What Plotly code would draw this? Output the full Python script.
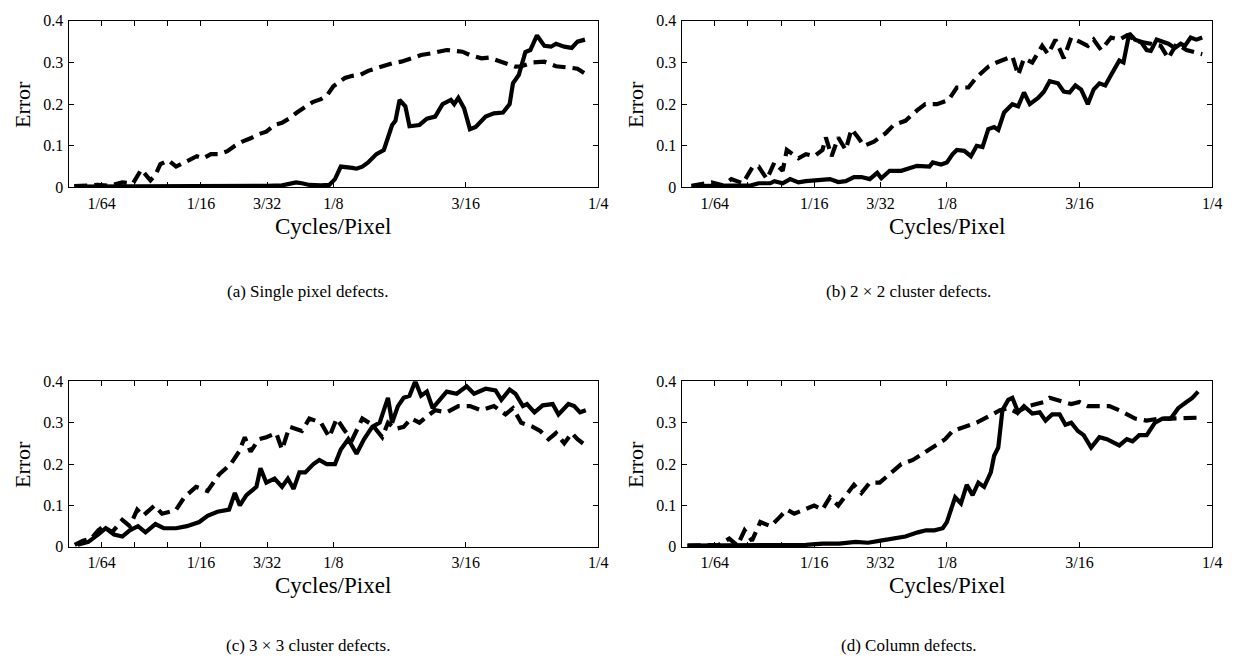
import plotly.graph_objects as go

# Frequencies are given in units of 1/256 cycles/pixel (k), converted below.
a_sol_k = [0.7, 3, 6, 9, 12, 15, 18, 21, 24, 25.8, 26.7, 27.5, 28.2, 29.1, 30.5, 31.5, 32.2, 32.9, 34.3, 34.8, 35.5, 36.2, 37.2, 38.1, 39.1, 39.5, 40.0, 40.7, 41.2, 42.4, 43.3, 44.3, 45.2, 46.2, 46.6, 47.1, 47.8, 48.5, 49.2, 50.4, 51.4, 52.5, 53.3, 53.7, 54.4, 55.2, 55.8, 56.6, 57.5, 58.3, 58.9, 59.9, 60.8, 61.5, 62.4]
a_sol_err = [.002, .002, .002, .002, .002, .002, .003, .003, .004, .005, .01, .012, .01, .006, .005, .006, .02, .05, .047, .045, .05, .06, .08, .09, .15, .16, .21, .195, .147, .15, .165, .17, .2, .21, .2, .215, .19, .14, .145, .17, .178, .18, .2, .25, .27, .325, .33, .365, .34, .338, .345, .338, .335, .35, .355]

a_dash_k = [0.7, 2, 3.5, 5, 6.5, 7.8, 8.8, 9.9, 10.5, 11.1, 12.1, 13, 14.4, 15.5, 16.3, 17.2, 18.2, 19.2, 20.1, 21, 22, 23, 23.9, 24.9, 25.8, 26.7, 27.6, 28.6, 29.5, 30.5, 31.2, 32, 33.4, 34.3, 35.3, 36.2, 37.2, 38.1, 39.1, 40.2, 41.4, 42.6, 43.8, 44.7, 45.7, 46.6, 47.6, 48.5, 49.9, 50.8, 51.8, 52.5, 53.3, 54, 54.7, 56.1, 57.5, 58.9, 60, 60.8, 61.5, 62.3]
a_dash_err = [.003, .005, .006, .004, .012, .01, .043, .017, .03, .056, .065, .05, .064, .075, .07, .08, .08, .087, .1, .11, .118, .128, .134, .15, .155, .166, .18, .193, .205, .212, .22, .243, .263, .268, .271, .28, .287, .292, .298, .302, .31, .318, .322, .325, .33, .328, .326, .318, .31, .312, .306, .3, .295, .29, .291, .3, .302, .291, .29, .287, .285, .275]

b_sol_k = [1.2, 3, 5, 7, 8.4, 9.3, 10.7, 11.2, 12.2, 13.1, 14.1, 15.0, 17.0, 17.9, 18.9, 19.8, 20.8, 21.7, 22.7, 23.6, 24.1, 25.1, 26.5, 27.5, 28.4, 29.9, 30.3, 31.3, 32, 32.7, 33.2, 34.1, 34.9, 35.6, 36.3, 37.0, 37.7, 38.2, 38.9, 39.9, 40.6, 41.3, 42.0, 43.0, 43.7, 44.4, 45.4, 46.1, 46.8, 47.5, 48.2, 49.0, 49.7, 50.4, 51.1, 51.8, 52.8, 53.3, 54.0, 54.7, 55.4, 56.1, 56.6, 57.3, 58.0, 58.7, 59.5, 60.2, 60.7, 61.4, 62.1, 62.8]
b_sol_err = [.003, .003, .004, .004, .005, .01, .01, .015, .01, .02, .012, .015, .017, .02, .013, .015, .025, .025, .02, .035, .022, .04, .04, .045, .052, .05, .06, .055, .06, .08, .09, .088, .075, .1, .097, .14, .145, .138, .18, .2, .195, .228, .2, .215, .23, .255, .25, .23, .228, .245, .235, .2, .235, .25, .245, .27, .305, .3, .37, .355, .35, .33, .328, .355, .35, .345, .335, .345, .34, .36, .355, .36]

b_dash_k = [1.2, 3.6, 5.0, 6.0, 7.4, 8.6, 9.3, 10.3, 11.2, 12.2, 12.7, 14.1, 15.0, 16.0, 17.0, 17.4, 18.1, 18.9, 19.8, 20.5, 21.3, 22.0, 23.2, 24.6, 25.6, 27.0, 28.4, 29.4, 30.8, 32.2, 33.2, 34.6, 35.6, 37.0, 38.0, 39.4, 39.9, 40.6, 41.3, 42.3, 43.5, 44.2, 45.1, 46.1, 47.0, 48.0, 49.0, 49.7, 50.6, 51.8, 52.8, 53.7, 55.2, 56.6, 57.8, 58.7, 59.7, 60.9, 61.9, 62.8]
b_dash_err = [.004, .012, .005, .02, .01, .05, .05, .02, .06, .04, .09, .07, .08, .075, .09, .12, .075, .12, .09, .14, .12, .1, .11, .13, .15, .16, .185, .2, .2, .21, .24, .24, .265, .29, .3, .31, .315, .27, .31, .3, .34, .32, .355, .31, .36, .35, .34, .355, .33, .36, .355, .365, .35, .345, .34, .31, .345, .33, .325, .32]

c_sol_k = [1.1, 2.4, 3.6, 4.5, 5.5, 6.5, 7.4, 8.4, 9.3, 10.5, 11.5, 13, 14.3, 15.8, 16.8, 18.0, 19.4, 20.1, 20.7, 21.5, 22.7, 23.2, 23.9, 24.9, 25.8, 26.5, 27.2, 27.9, 28.6, 29.6, 30.3, 31.2, 32.2, 32.9, 33.8, 34.8, 35.7, 36.7, 37.6, 38.6, 39.1, 39.8, 40.5, 41.2, 41.9, 42.6, 43.3, 44.0, 45.7, 46.9, 48.1, 49.0, 50.4, 51.6, 52.3, 53.3, 54.0, 54.9, 55.4, 56.3, 57.3, 58.5, 59.2, 60.4, 61.1, 61.8, 62.5]
c_sol_err = [.005, .012, .03, .045, .03, .025, .04, .05, .035, .055, .045, .045, .05, .06, .075, .085, .09, .13, .1, .125, .145, .19, .155, .165, .145, .165, .14, .18, .18, .2, .21, .2, .2, .235, .26, .225, .26, .29, .3, .36, .3, .34, .36, .365, .4, .365, .375, .335, .375, .37, .388, .37, .382, .378, .355, .38, .37, .34, .345, .325, .342, .345, .32, .345, .34, .325, .33]

c_dash_k = [0.75, 1.75, 2.75, 3.6, 4.25, 5.25, 6.5, 7.4, 8.3, 9.0, 10.4, 11.3, 12.3, 13.0, 14.0, 15.4, 16.8, 18.2, 19.6, 20.6, 21.3, 22.0, 23.0, 23.9, 25.1, 25.8, 26.7, 28.2, 29.1, 30.5, 31.5, 32.4, 33.4, 34.3, 35.5, 36.7, 37.9, 38.6, 39.5, 40.5, 41.4, 42.4, 43.3, 44.3, 45.7, 47.1, 48.5, 49.9, 51.4, 52.8, 53.7, 54.7, 56.1, 57.0, 58.0, 58.9, 59.9, 60.8, 61.5, 62.5]
c_dash_err = [.005, .015, .02, .04, .05, .035, .065, .05, .09, .075, .1, .08, .085, .09, .12, .145, .135, .175, .2, .23, .265, .23, .26, .265, .275, .235, .29, .28, .31, .3, .265, .31, .28, .26, .31, .295, .265, .3, .285, .29, .31, .3, .315, .33, .325, .34, .34, .33, .34, .32, .335, .3, .29, .28, .26, .275, .25, .275, .26, .245]

d_sol_k = [0.7, 4, 8, 12, 15, 17, 19, 21, 22.5, 24, 25.5, 27, 28.5, 29.5, 30.5, 31.5, 32, 32.5, 33.0, 33.7, 34.4, 35.1, 35.8, 36.5, 37.3, 37.7, 38.2, 38.7, 39.4, 39.9, 40.6, 41.3, 42.3, 43.2, 43.9, 44.7, 45.6, 46.3, 47.0, 47.8, 48.5, 49.4, 50.4, 51.3, 52.8, 53.7, 54.4, 55.2, 56.1, 57.1, 58.0, 59.0, 59.9, 60.9, 61.6, 62.3]
d_sol_err = [.003, .003, .003, .004, .005, .008, .008, .012, .01, .015, .02, .025, .035, .04, .04, .045, .06, .09, .12, .105, .15, .125, .155, .145, .18, .22, .24, .33, .355, .36, .325, .34, .322, .325, .305, .32, .32, .295, .3, .28, .27, .24, .265, .26, .245, .26, .255, .27, .27, .3, .31, .31, .335, .35, .36, .375]

d_dash_k = [0.75, 2.6, 4.5, 5.75, 6.75, 7.6, 8.5, 9.5, 10.75, 11.75, 12.7, 13.6, 16.0, 17.0, 17.9, 18.9, 19.8, 20.8, 21.7, 22.7, 23.9, 25.1, 26.5, 27.9, 29.4, 30.3, 31.8, 32.7, 34.1, 35.6, 37.0, 38.4, 39.4, 40.4, 41.8, 42.7, 43.7, 44.4, 45.1, 46.1, 47.0, 48.0, 49.0, 50.4, 51.6, 52.8, 53.7, 54.7, 56.1, 57.6, 59.0, 60.4, 62.3]
d_dash_err = [.003, .003, .005, .02, .003, .04, .015, .06, .05, .07, .09, .08, .1, .09, .12, .1, .125, .15, .13, .155, .155, .175, .2, .21, .23, .24, .26, .28, .29, .3, .315, .33, .335, .325, .34, .345, .35, .36, .355, .35, .345, .35, .34, .34, .34, .33, .32, .31, .305, .31, .31, .31, .312]

x_tick_vals = [1/64, 1/32, 3/64, 1/16, 3/32, 1/8, 3/16, 1/4]
x_tick_text = ["1/64", "", "", "1/16", "3/32", "1/8", "3/16", "1/4"]
y_tick_vals = [0, 0.1, 0.2, 0.3, 0.4]
y_tick_text = ["0", "0.1", "0.2", "0.3", "0.4"]
captions = ["(a) Single pixel defects.", "(b) 2 × 2 cluster defects.",
            "(c) 3 × 3 cluster defects.", "(d) Column defects."]

panels = [
    (a_sol_k, a_sol_err, a_dash_k, a_dash_err),
    (b_sol_k, b_sol_err, b_dash_k, b_dash_err),
    (c_sol_k, c_sol_err, c_dash_k, c_dash_err),
    (d_sol_k, d_sol_err, d_dash_k, d_dash_err),
]

# The page body has an 8px default margin, so the figure is drawn 8px in.
OFF = 8
W, H = 1247 - OFF, 664 - OFF
FONT = "Liberation Serif"
# page-pixel boxes: (left, right, top, bottom)
boxes = [(69, 603, 13, 184), (687, 1222, 13, 184),
         (69, 603, 383, 553), (687, 1222, 383, 553)]
cap_x = [310, 916, 310, 916]
cap_y = [291, 291, 654, 654]


def px(x):
    return (x - OFF) / W


def py(y):
    return 1 - (y - OFF) / H


fig = go.Figure()
layout = dict(width=W, height=H, margin=dict(l=0, r=0, t=0, b=0),
              paper_bgcolor="white", plot_bgcolor="white", showlegend=False,
              font=dict(family=FONT, color="black"))
annotations = []
for i, (sk, se, dk, de) in enumerate(panels):
    assert len(sk) == len(se) and len(dk) == len(de)
    n = "" if i == 0 else str(i + 1)
    fig.add_trace(go.Scatter(x=[k / 256 for k in dk], y=de, mode="lines",
                             line=dict(color="black", width=4.2, dash="13px,7px"),
                             xaxis="x" + n, yaxis="y" + n))
    fig.add_trace(go.Scatter(x=[k / 256 for k in sk], y=se, mode="lines",
                             line=dict(color="black", width=4.2),
                             xaxis="x" + n, yaxis="y" + n))
    l, r, t, b = boxes[i]
    common = dict(showline=True, linecolor="black", linewidth=1, mirror="ticks",
                  ticks="inside", ticklen=5, tickcolor="black", showgrid=False,
                  zeroline=False, tickfont=dict(family=FONT, size=16, color="black"))
    layout["xaxis" + n] = dict(domain=[px(l), px(r)], range=[0, 0.25],
                               tickvals=x_tick_vals, ticktext=x_tick_text,
                               anchor="y" + n, ticklabelstandoff=1, **common)
    layout["yaxis" + n] = dict(domain=[py(b), py(t)], range=[0, 0.4],
                               tickvals=y_tick_vals, ticktext=y_tick_text,
                               anchor="x" + n, ticklabelstandoff=1, **common)
    cx = (l + r) / 2
    annotations.append(dict(text="Cycles/Pixel", x=px(cx), y=py(b + 40),
                            xref="paper", yref="paper", showarrow=False,
                            font=dict(family=FONT, size=23, color="black"),
                            xanchor="center", yanchor="middle"))
    annotations.append(dict(text="Error", x=px(l - 47), y=py((t + b) / 2),
                            xref="paper", yref="paper", showarrow=False, textangle=-90,
                            font=dict(family=FONT, size=22, color="black"),
                            xanchor="center", yanchor="middle"))
    annotations.append(dict(text=captions[i], x=px(cap_x[i]), y=py(cap_y[i]),
                            xref="paper", yref="paper", showarrow=False,
                            font=dict(family=FONT, size=17, color="black"),
                            xanchor="center", yanchor="middle"))
layout["annotations"] = annotations
fig.update_layout(**layout)
fig.write_html("out.html")
